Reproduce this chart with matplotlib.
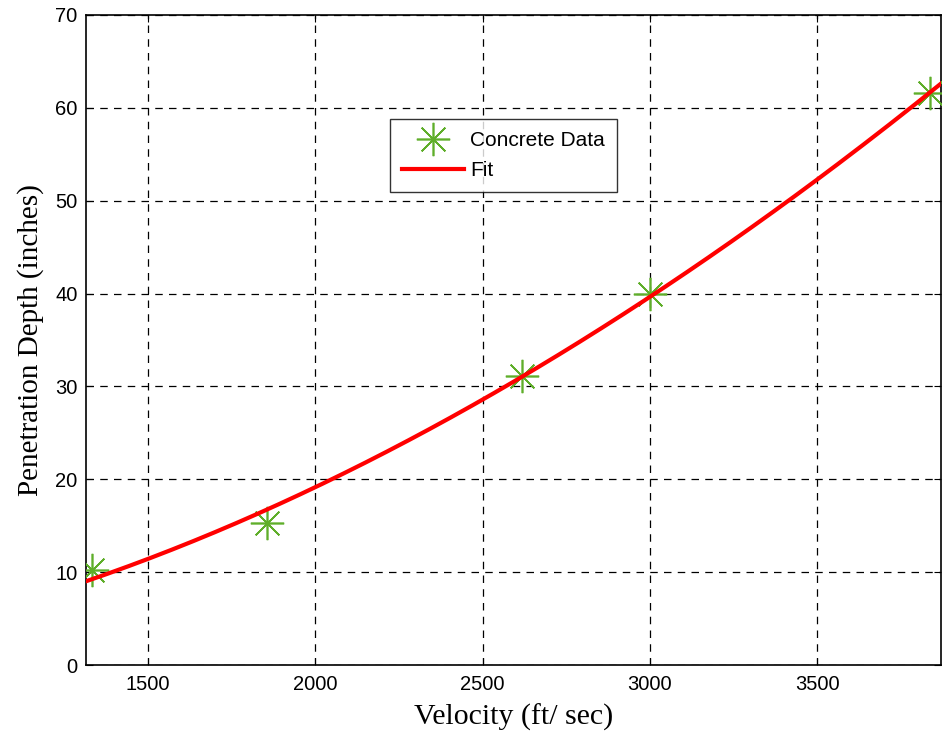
import numpy as np
import matplotlib
matplotlib.use("Agg")
import matplotlib.pyplot as plt

velocity = [1333, 1855, 2617, 3000, 3838]
depth = [10.2, 15.3, 31.1, 40.0, 61.6]
x_ticks = [1500, 2000, 2500, 3000, 3500]
y_ticks = [0, 10, 20, 30, 40, 50, 60, 70]

fig = plt.figure(figsize=(9.42, 7.35), dpi=100)
ax = fig.add_axes([0.0913, 0.0952, 0.9077, 0.8844])

# power-law fit of the data (least squares weighted towards linear space)
b, loga = np.polyfit(np.log(velocity), np.log(depth), 1, w=np.array(depth))
xf = np.linspace(1315, 3870, 200)
yf = np.exp(loga) * xf ** b

green = "#5fae2a"
ax.plot(velocity, depth, linestyle="none", marker=(8, 2, 0), markersize=24,
        markeredgewidth=1.2, color=green, label="Concrete Data", zorder=3)
ax.plot(xf, yf, color="#ff0000", linewidth=3, label="Fit", zorder=4)

ax.set_xlim(1315, 3870)
ax.set_ylim(0, 70)
ax.set_xticks(x_ticks)
ax.set_yticks(y_ticks)
ax.grid(True, color="black", linestyle=(0, (6, 5)), linewidth=0.9)
ax.tick_params(direction="in", length=5, labelsize=14.5, top=True, right=True,
               labelfontfamily="Liberation Sans")
ax.tick_params(axis="x", pad=7)
ax.tick_params(axis="y", pad=6)
for s in ax.spines.values():
    s.set_linewidth(1.2)

ax.set_xlabel("Velocity (ft/ sec)", fontsize=21.5, family="Liberation Serif", labelpad=7)
ax.set_ylabel("Penetration Depth (inches)", fontsize=21, family="Liberation Serif", labelpad=8)

leg = ax.legend(loc="upper left", bbox_to_anchor=(0.3435, 0.8555), frameon=True,
                fancybox=False, edgecolor="black",
                prop={"family": "Liberation Sans", "size": 15},
                handlelength=3.0, borderpad=0.55, labelspacing=0.55, handletextpad=0.3)
leg.get_frame().set_linewidth(1.0)

fig.savefig("out.png", dpi=100)
